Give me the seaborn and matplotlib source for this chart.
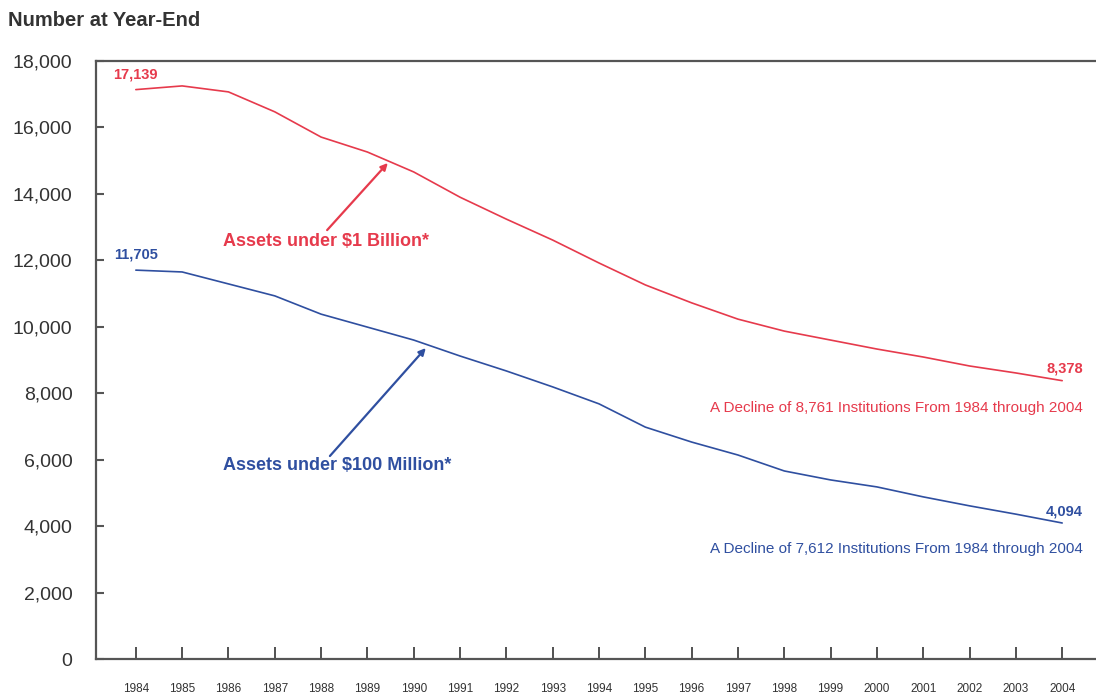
import matplotlib
matplotlib.use("Agg")
import matplotlib.pyplot as plt
import seaborn as sns
import pandas as pd

years = list(range(1984, 2005))
under_1b = [17139, 17250, 17070, 16470, 15710, 15260, 14660, 13900, 13240, 12610,
            11920, 11260, 10720, 10230, 9870, 9600, 9330, 9090, 8820, 8610, 8378]
under_100m = [11705, 11650, 11290, 10930, 10380, 9990, 9600, 9120, 8670, 8190,
              7680, 6980, 6530, 6140, 5660, 5390, 5180, 4880, 4610, 4360, 4094]
series_names = ["Assets under $1 Billion*", "Assets under $100 Million*"]
decline_notes = ["A Decline of 8,761 Institutions From 1984 through 2004",
                 "A Decline of 7,612 Institutions From 1984 through 2004"]
y_ticks = [0, 2000, 4000, 6000, 8000, 10000, 12000, 14000, 16000, 18000]

RED = "#e63a4c"
BLUE = "#2f4fa0"
GRAY = "#555555"

df = pd.DataFrame({
    "Year": years * 2,
    "Number": under_1b + under_100m,
    "Series": [series_names[0]] * len(years) + [series_names[1]] * len(years),
})

sns.set_style("white")
plt.rcParams["font.family"] = ["Liberation Sans", "DejaVu Sans"]

fig = plt.figure(figsize=(10.96, 6.98), dpi=100)
ax = fig.add_axes([96 / 1096, 39 / 698, 1 - 96 / 1096, (659 - 61) / 698])

sns.lineplot(data=df, x="Year", y="Number", hue="Series",
             palette={series_names[0]: RED, series_names[1]: BLUE},
             linewidth=1.2, ax=ax, legend=False)

ax.set_xlim(1983.14, 2004.73)
ax.set_ylim(0, 18000)
ax.set_xticks(years)
ax.set_xticklabels([str(y) for y in years], fontsize=8.5, color="#333333")
ax.set_yticks(y_ticks)
ax.set_yticklabels([f"{v:,}" for v in y_ticks], fontsize=14, color="#333333")
ax.set_xlabel("")
ax.set_ylabel("")

for s in ["left", "top", "bottom"]:
    ax.spines[s].set_visible(True)
    ax.spines[s].set_color(GRAY)
    ax.spines[s].set_linewidth(1.6)
ax.spines["right"].set_visible(False)

ax.tick_params(axis="y", direction="in", length=6, width=1.5, color=GRAY, pad=17, left=True)
ax.tick_params(axis="x", direction="in", length=9, width=1.2, color="#333333", pad=17, bottom=True)

fig.text(8 / 1096, 1 - 20 / 698, "Number at Year-End", fontsize=14.5, fontweight="bold",
         color="#333333", va="center", ha="left")

# value labels
ax.text(1984, under_1b[0] + 250, f"{under_1b[0]:,}", color=RED, fontsize=10.5, fontweight="bold",
        ha="center", va="bottom")
ax.text(1984, under_100m[0] + 250, f"{under_100m[0]:,}", color=BLUE, fontsize=10.5, fontweight="bold",
        ha="center", va="bottom")
ax.text(2004.45, under_1b[-1] + 150, f"{under_1b[-1]:,}", color=RED, fontsize=10.5, fontweight="bold",
        ha="right", va="bottom")
ax.text(2004.45, under_100m[-1] + 150, f"{under_100m[-1]:,}", color=BLUE, fontsize=10.5, fontweight="bold",
        ha="right", va="bottom")

ax.text(2004.45, 7560, decline_notes[0], color=RED, fontsize=11, ha="right", va="center")
ax.text(2004.45, 3300, decline_notes[1], color=BLUE, fontsize=11, ha="right", va="center")

# series labels with arrows
ax.text(1985.88, 12580, series_names[0], color=RED, fontsize=13, fontweight="bold",
        ha="left", va="center")
ax.text(1985.88, 5810, series_names[1], color=BLUE, fontsize=13, fontweight="bold",
        ha="left", va="center")
ax.annotate("", xy=(1989.44, 14930), xytext=(1988.13, 12910),
            arrowprops=dict(arrowstyle="-|>", color=RED, lw=1.6, mutation_scale=10,
                            shrinkA=0, shrinkB=0))
ax.annotate("", xy=(1990.26, 9360), xytext=(1988.19, 6110),
            arrowprops=dict(arrowstyle="-|>", color=BLUE, lw=1.6, mutation_scale=10,
                            shrinkA=0, shrinkB=0))

fig.savefig("out.png", dpi=100)
